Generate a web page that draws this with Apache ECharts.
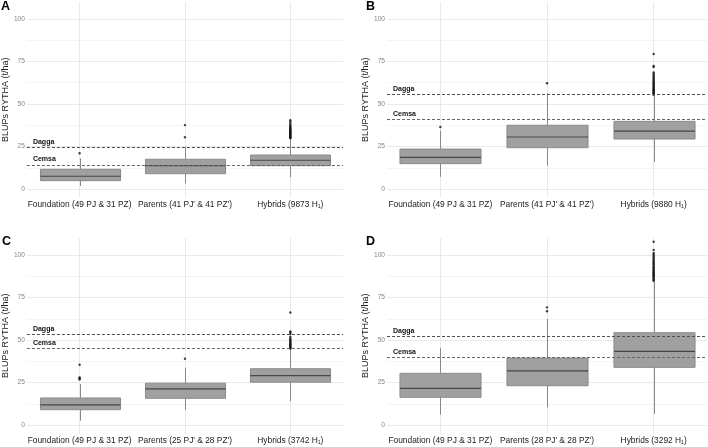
<!DOCTYPE html>
<html>
<head>
<meta charset="utf-8">
<script src="https://cdn.jsdelivr.net/npm/echarts@6/dist/echarts.min.js"></script>
<style>
html,body{margin:0;padding:0;background:#fff;}
#chart{width:708px;height:447px;}
</style>
</head>
<body>
<div id="chart"></div>
<script>
// ---------- data ----------
const panelLetters = ['A', 'B', 'C', 'D'];
const yAxisTitle = 'BLUPs RYTHA (t/ha)';
const yTicks = [0, 25, 50, 75, 100];
const yMinorTicks = [12.5, 37.5, 62.5, 87.5];

const catsA = ['Foundation (49 PJ & 31 PZ)', "Parents (41 PJ' & 41 PZ')", 'Hybrids (9873 H\u2081)'];
const catsB = ['Foundation (49 PJ & 31 PZ)', "Parents (41 PJ' & 41 PZ')", 'Hybrids (9880 H\u2081)'];
const catsC = ['Foundation (49 PJ & 31 PZ)', "Parents (25 PJ' & 28 PZ')", 'Hybrids (3742 H\u2081)'];
const catsD = ['Foundation (49 PJ & 31 PZ)', "Parents (28 PJ' & 28 PZ')", 'Hybrids (3292 H\u2081)'];

// [min, Q1, median, Q3, max] per category
const boxA = [[1.8, 4.9, 7.5, 11.6, 18.0], [3.3, 9.0, 13.7, 17.5, 24.9], [6.9, 13.7, 16.9, 20.0, 29.6]];
const boxB = [[7.2, 14.9, 18.6, 23.5, 34.3], [13.7, 24.3, 30.6, 37.5, 56.3], [16.0, 29.4, 34.1, 39.8, 55.0]];
const boxC = [[2.5, 9.0, 11.8, 15.9, 24.0], [8.9, 15.7, 21.3, 24.6, 33.7], [14.0, 25.2, 29.1, 33.1, 44.5]];
const boxD = [[6.1, 16.3, 21.6, 30.4, 45.3], [10.4, 23.1, 31.8, 39.4, 62.4], [6.5, 33.9, 43.3, 54.3, 84.5]];

// outliers per category
const outA = [[21.0], [30.4, 37.6],
  [29.9, 30.3, 30.6, 31.0, 31.3, 31.7, 32.0, 32.4, 32.8, 33.1, 33.5, 33.9, 34.3, 34.7, 35.1, 35.5, 36.0, 36.5, 37.1, 37.7, 38.6, 39.6, 40.4]];
const outB = [[36.5], [62.2],
  [55.4, 55.8, 56.3, 56.7, 57.2, 57.6, 58.1, 58.5, 59.0, 59.6, 60.1, 60.7, 61.2, 61.8, 62.3, 62.9, 63.6, 64.2, 64.9, 65.5, 66.2, 67.0, 67.8, 68.6, 71.8, 72.4, 79.4]];
const outC = [[26.8, 27.5, 28.0, 35.4], [39.0],
  [44.9, 45.3, 45.7, 46.1, 46.6, 47.0, 47.5, 48.0, 48.6, 49.1, 49.7, 50.3, 51.0, 52.0, 53.6, 54.4, 55.0, 66.2]];
const outD = [[], [66.9, 69.2],
  [84.8, 85.3, 85.9, 86.4, 87.0, 87.6, 88.1, 88.7, 89.3, 89.8, 90.5, 91.1, 91.8, 92.4, 93.0, 93.7, 94.4, 95.0, 95.8, 96.5, 97.2, 98.0, 98.8, 99.5, 100.3, 101.2, 103.0, 107.8]];

// reference checks
const daggaVals = [24.3, 55.7, 53.2, 52.2];
const cemsaVals = [14.1, 41.0, 44.9, 39.8];

// ---------- layout ----------
const FONT = 'Liberation Sans, Arial, sans-serif';
const panelCats = [catsA, catsB, catsC, catsD];
const panelBoxes = [boxA, boxB, boxC, boxD];
const panelOut = [outA, outB, outC, outD];
const grids = [
  {left: 23, top: 2, width: 320, height: 195.5},
  {left: 387, top: 2, width: 320, height: 195.5},
  {left: 23, top: 238, width: 320, height: 195.5},
  {left: 387, top: 238, width: 320, height: 195.5}
];
const letterPos = [[1, 0], [366, 0], [2, 235], [366, 235]];

const option = {
  backgroundColor: '#ffffff',
  animation: false,
  textStyle: {fontFamily: FONT},
  title: panelLetters.map((t, i) => ({
    text: t, left: letterPos[i][0], top: letterPos[i][1], padding: 0,
    textStyle: {fontFamily: FONT, fontSize: 12.5, fontWeight: 'bold', color: '#000'}
  })),
  grid: grids,
  xAxis: panelCats.map((cats, i) => ({
    type: 'category', gridIndex: i, data: cats, boundaryGap: true,
    axisLine: {show: false}, axisTick: {show: false}, splitLine: {show: false},
    axisLabel: {color: '#222', fontSize: 8.4, margin: 3, fontFamily: FONT, interval: 0}
  })),
  yAxis: panelCats.map((c, i) => ({
    type: 'value', gridIndex: i, min: -5, max: 110, interval: 2.5,
    axisLine: {show: false}, axisTick: {show: false}, splitLine: {show: false},
    axisLabel: {
      color: '#858585', fontSize: 6.6, margin: 2, fontFamily: FONT,
      formatter: v => (yTicks.indexOf(v) >= 0 ? String(v) : '')
    },
    name: yAxisTitle, nameLocation: 'middle', nameGap: 13,
    nameTextStyle: {color: '#222', fontSize: 9, fontFamily: FONT}
  })),
  series: []
};

for (let i = 0; i < 4; i++) {
  const cats = panelCats[i];
  // gridlines
  option.series.push({
    type: 'scatter', xAxisIndex: i, yAxisIndex: i, data: [], z: 1, silent: true,
    markLine: {
      z: 1, silent: true, symbol: ['none', 'none'], label: {show: false},
      data: yMinorTicks.map(v => ({yAxis: v, lineStyle: {color: '#f4f4f4', width: 1, type: 'solid'}}))
        .concat(yTicks.map(v => ({yAxis: v, lineStyle: {color: '#e9e9e9', width: 1, type: 'solid'}})))
        .concat(cats.map(c => ({xAxis: c, lineStyle: {color: '#e9e9e9', width: 1, type: 'solid'}})))
    }
  });
  // boxes
  option.series.push({
    type: 'custom', xAxisIndex: i, yAxisIndex: i, z: 10,
    data: panelBoxes[i].map((b, k) => [k].concat(b)),
    encode: {x: 0, y: [1, 2, 3, 4, 5]},
    renderItem: function (params, api) {
      const x = api.value(0);
      const pMin = api.coord([x, api.value(1)]);
      const pQ1 = api.coord([x, api.value(2)]);
      const pMed = api.coord([x, api.value(3)]);
      const pQ3 = api.coord([x, api.value(4)]);
      const pMax = api.coord([x, api.value(5)]);
      const bw = api.size([1, 0])[0] * 0.76;
      const cx = Math.round(pMed[0]) + 0.5;
      return {
        type: 'group',
        children: [
          {type: 'line', shape: {x1: cx, y1: pMax[1], x2: cx, y2: pQ3[1]}, style: {stroke: '#888', lineWidth: 1}},
          {type: 'line', shape: {x1: cx, y1: pQ1[1], x2: cx, y2: pMin[1]}, style: {stroke: '#888', lineWidth: 1}},
          {type: 'rect', shape: {x: cx - bw / 2, y: pQ3[1], width: bw, height: pQ1[1] - pQ3[1]},
            style: {fill: '#a0a0a0', stroke: '#8a8a8a', lineWidth: 1}},
          {type: 'line', shape: {x1: cx - bw / 2, y1: pMed[1], x2: cx + bw / 2, y2: pMed[1]},
            style: {stroke: '#474747', lineWidth: 1.2}}
        ]
      };
    }
  });
  // outliers
  option.series.push({
    type: 'scatter', xAxisIndex: i, yAxisIndex: i, z: 11, silent: true,
    symbol: 'circle', symbolSize: 2.4,
    itemStyle: {color: '#111'},
    data: panelOut[i].flatMap((arr, k) => arr.map(v => [k, v]))
  });
  // reference lines
  option.series.push({
    type: 'scatter', xAxisIndex: i, yAxisIndex: i, data: [], z: 20, silent: true,
    markLine: {
      z: 20, silent: true, symbol: ['none', 'none'],
      lineStyle: {type: [3, 2], width: 1},
      label: {show: true, position: 'insideStartTop', formatter: '{b}', color: '#111',
        fontSize: 7, fontWeight: 'bold', fontFamily: FONT, distance: [6, 2]},
      data: [
        {name: 'Dagga', yAxis: daggaVals[i], lineStyle: {color: '#505050'}},
        {name: 'Cemsa', yAxis: cemsaVals[i], lineStyle: {color: '#666'}}
      ]
    }
  });
}

const chart = echarts.init(document.getElementById('chart'), null, {renderer: 'canvas'});
chart.setOption(option);
</script>
</body>
</html>
